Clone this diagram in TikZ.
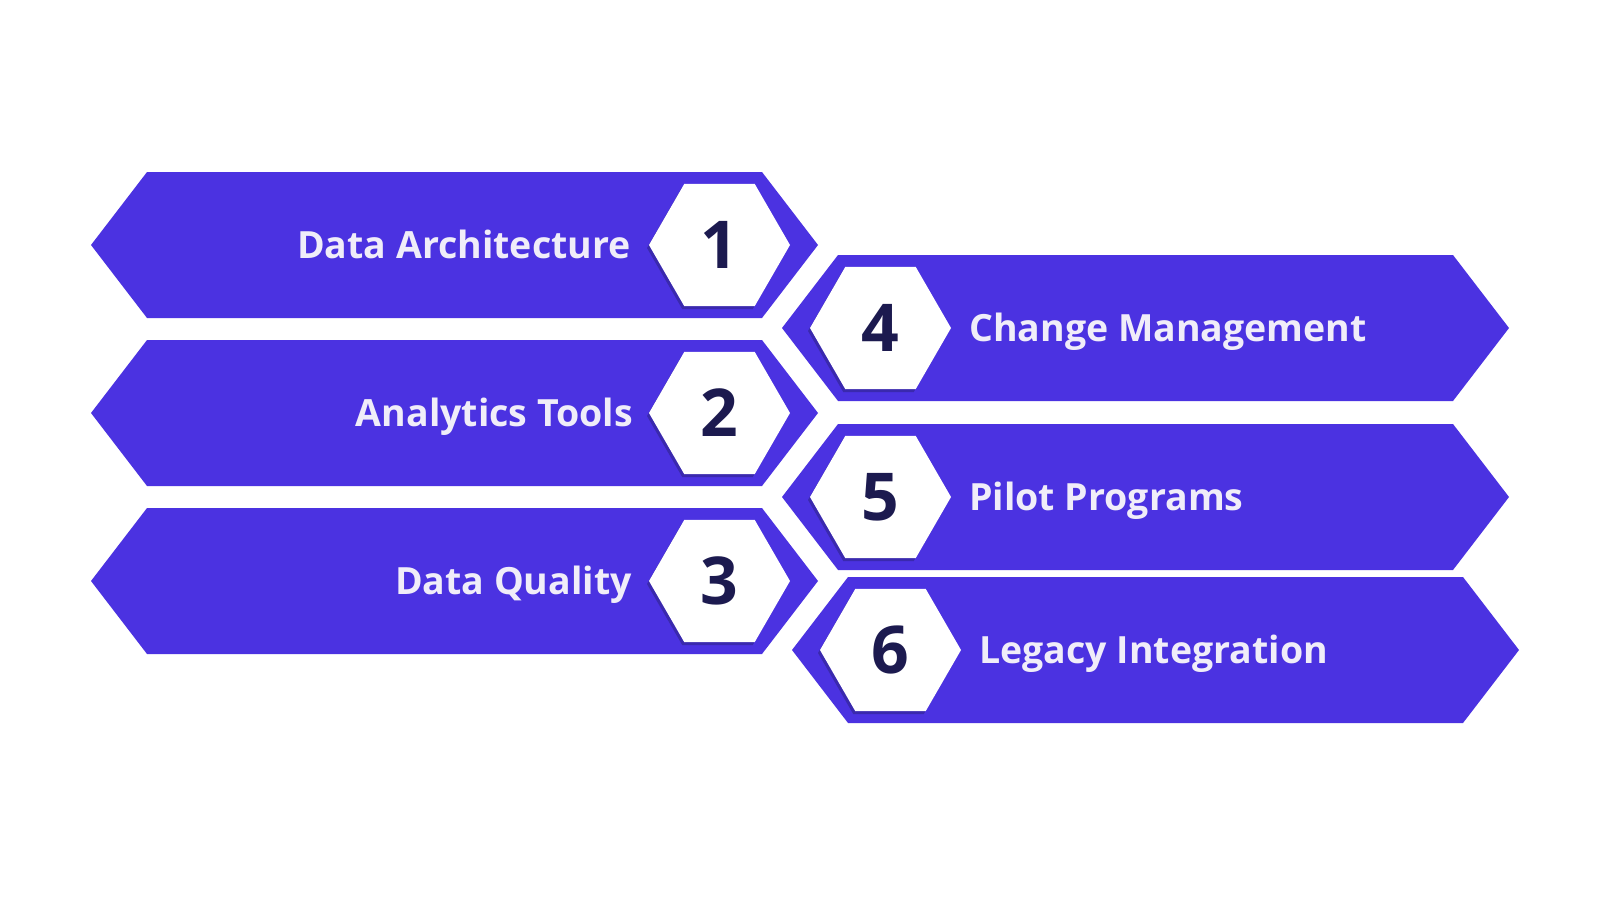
\documentclass[tikz,border=0pt]{standalone}
\usepackage{fontspec}
\setmainfont{Open Sans}
\usepackage{tikz}
\usetikzlibrary{positioning}
\usetikzlibrary{shapes.symbols, shapes.geometric, shadows}

\definecolor{bannerblue}{HTML}{4B32E1}
\definecolor{numnavy}{HTML}{1C1A4F}
\definecolor{labwhite}{HTML}{F0EDF9}

\begin{document}
\begin{tikzpicture}[
            x = 1pt, y = -1pt, % pixel grid, y down
            banner/.style = {signal, signal to = west and east, signal pointer angle = 105,
                fill = bannerblue, draw = none, minimum width = 727pt, minimum height = 146pt,
                inner sep = 0pt, outer sep = 0pt},
            hexa/.style = {regular polygon, regular polygon sides = 6, minimum size = 141pt,
                inner sep = 0pt, outer sep = 0pt, fill = white,
                drop shadow = {shadow xshift = -2pt, shadow yshift = -3pt, opacity = .35, fill = numnavy},
                font = \bfseries\fontsize{66}{66}\selectfont, text = numnavy,
                text height = 47pt, text depth = 0pt},
            lab/.style = {font = \bfseries\fontsize{37.5}{37.5}\selectfont, text = labwhite,
                inner sep = 0pt, text height = 27pt, text depth = 0pt}
        ]

       \useasboundingbox[fill = white] (0,0) rectangle (1600,900);

       % left column
       \node[banner] (B1) at (454.5,245) {};
       \node[banner] (B2) at (454.5,413) {};
       \node[banner] (B3) at (454.5,581) {};

       % right column
       \node[banner] (B4) at (1145.5,328) {};
       \node[banner] (B5) at (1145.5,497) {};
       \node[banner] (B6) at (1155.5,650) {};

       \node[hexa] (N1) [left = 28pt of B1.east] {1};
       \node[hexa] (N2) [left = 28pt of B2.east] {2};
       \node[hexa] (N3) [left = 28pt of B3.east] {3};
       \node[hexa] (N4) [right = 28pt of B4.west] {4};
       \node[hexa] (N5) [right = 28pt of B5.west] {5};
       \node[hexa] (N6) [right = 28pt of B6.west] {6};

       \node[lab] (L1) [left = 18pt of N1] {Data Architecture};
       \node[lab] (L2) [left = 16pt of N2] {Analytics Tools};
       \node[lab] (L3) [left = 17pt of N3] {Data Quality};
       \node[lab] (L4) [right = 18pt of N4] {Change Management};
       \node[lab] (L5) [right = 18pt of N5] {Pilot Programs};
       \node[lab] (L6) [right = 18pt of N6] {Legacy Integration};

  \end{tikzpicture}
\end{document}
